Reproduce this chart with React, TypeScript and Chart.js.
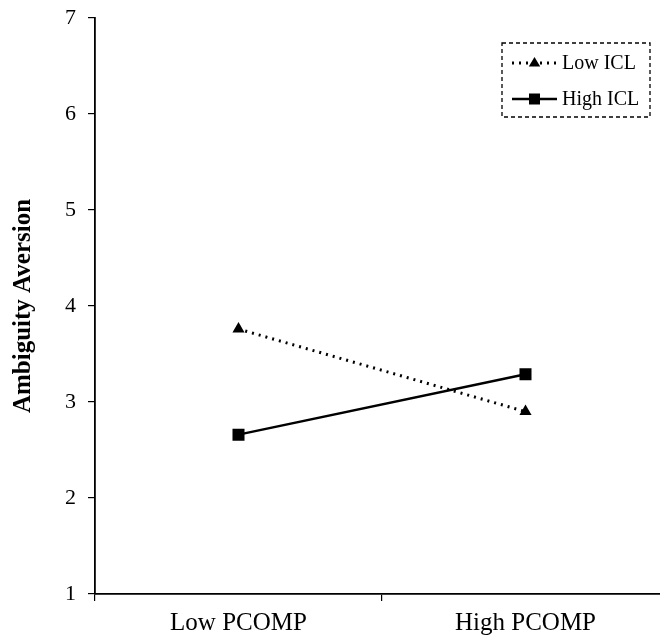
import React, { useEffect, useRef } from "react";
import { Chart, registerables } from "chart.js";

Chart.register(...registerables);

const categories = ["Low PCOMP", "High PCOMP"];
const lowICL = [3.76, 2.9];
const highICL = [2.66, 3.29];
const seriesLabels = ["Low ICL", "High ICL"];
const yTicks = [1, 2, 3, 4, 5, 6, 7];

const FONT = "'Liberation Serif', 'Times New Roman', serif";

const legendPlugin = {
  id: "dashedLegend",
  afterDraw(chart: any) {
    const ctx = chart.ctx as CanvasRenderingContext2D;
    const box = { x: 502, y: 43, w: 148, h: 74 };
    ctx.save();
    ctx.strokeStyle = "#000";
    ctx.lineWidth = 1.3;
    ctx.setLineDash([4, 3]);
    ctx.strokeRect(box.x, box.y, box.w, box.h);
    ctx.setLineDash([]);
    const rows = [63, 99];
    chart.data.datasets.forEach((ds: any, i: number) => {
      const y = rows[i];
      const x0 = box.x + 10;
      const x1 = box.x + 55;
      const xm = (x0 + x1) / 2;
      ctx.strokeStyle = "#000";
      ctx.lineWidth = ds.borderWidth;
      ctx.setLineDash(ds.borderDash || []);
      ctx.beginPath();
      ctx.moveTo(x0, y);
      ctx.lineTo(x1, y);
      ctx.stroke();
      ctx.setLineDash([]);
      ctx.fillStyle = "#000";
      if (ds.pointStyle === "triangle") {
        const r = 6;
        ctx.beginPath();
        ctx.moveTo(xm, y - r);
        ctx.lineTo(xm + r * 0.95, y + r * 0.6);
        ctx.lineTo(xm - r * 0.95, y + r * 0.6);
        ctx.closePath();
        ctx.fill();
      } else {
        const s = 11;
        ctx.fillRect(xm - s / 2, y - s / 2, s, s);
      }
      ctx.font = `20px ${FONT}`;
      ctx.textBaseline = "middle";
      ctx.textAlign = "left";
      ctx.fillText(ds.label, x1 + 5, y + 1);
    });
    ctx.restore();
  },
};

export default function App() {
  const ref = useRef<HTMLCanvasElement | null>(null);
  useEffect(() => {
    if (!ref.current) return;
    const chart = new Chart(ref.current, {
      type: "line",
      data: {
        labels: categories,
        datasets: [
          {
            label: seriesLabels[0],
            data: lowICL,
            borderColor: "#000",
            backgroundColor: "#000",
            borderWidth: 3,
            borderDash: [2, 5],
            pointStyle: "triangle",
            pointRadius: 7,
            pointBorderWidth: 0,
            pointBackgroundColor: "#000",
          },
          {
            label: seriesLabels[1],
            data: highICL,
            borderColor: "#000",
            backgroundColor: "#000",
            borderWidth: 2.5,
            pointStyle: "rect",
            pointRadius: 8.5,
            pointBorderWidth: 0,
            pointBackgroundColor: "#000",
          },
        ],
      },
      options: {
        animation: false,
        responsive: false,
        devicePixelRatio: 1,
        layout: { padding: { top: 18, right: 11, left: 0, bottom: 0 } },
        plugins: { legend: { display: false }, tooltip: { enabled: false } },
        scales: {
          x: {
            type: "category",
            offset: true,
            grid: {
              offset: true,
              drawOnChartArea: false,
              drawTicks: true,
              tickLength: 7,
              color: "#000",
              lineWidth: 1.2,
            },
            border: { color: "#000", width: 1.8 },
            ticks: { color: "#000", font: { family: FONT, size: 25 }, padding: 7, maxRotation: 0 },
            afterFit: (s: any) => {
              s.height = 47;
              s.paddingLeft = 0;
              s.paddingRight = 0;
            },
          },
          y: {
            min: 1,
            max: 7,
            afterBuildTicks: (s: any) => {
              s.ticks = yTicks.map((v) => ({ value: v }));
            },
            grid: {
              drawOnChartArea: false,
              drawTicks: true,
              tickLength: 7,
              color: "#000",
              lineWidth: 1.2,
            },
            border: { color: "#000", width: 1.8 },
            ticks: { color: "#000", font: { family: FONT, size: 22 }, padding: 12 },
            title: {
              display: true,
              text: "Ambiguity Aversion",
              color: "#000",
              font: { family: FONT, size: 25, weight: "bold" },
              padding: { top: 9, bottom: 0 },
            },
            afterFit: (s: any) => {
              s.width = 95;
              s.paddingTop = 0;
              s.paddingBottom = 0;
            },
          },
        },
      },
      plugins: [legendPlugin],
    });
    return () => chart.destroy();
  }, []);
  return (
    <div style={{ position: "fixed", left: 0, top: 0, width: 660, height: 641, overflow: "hidden", background: "#fff" }}>
      <canvas ref={ref} width={680} height={641} style={{ display: "block" }} />
    </div>
  );
}
